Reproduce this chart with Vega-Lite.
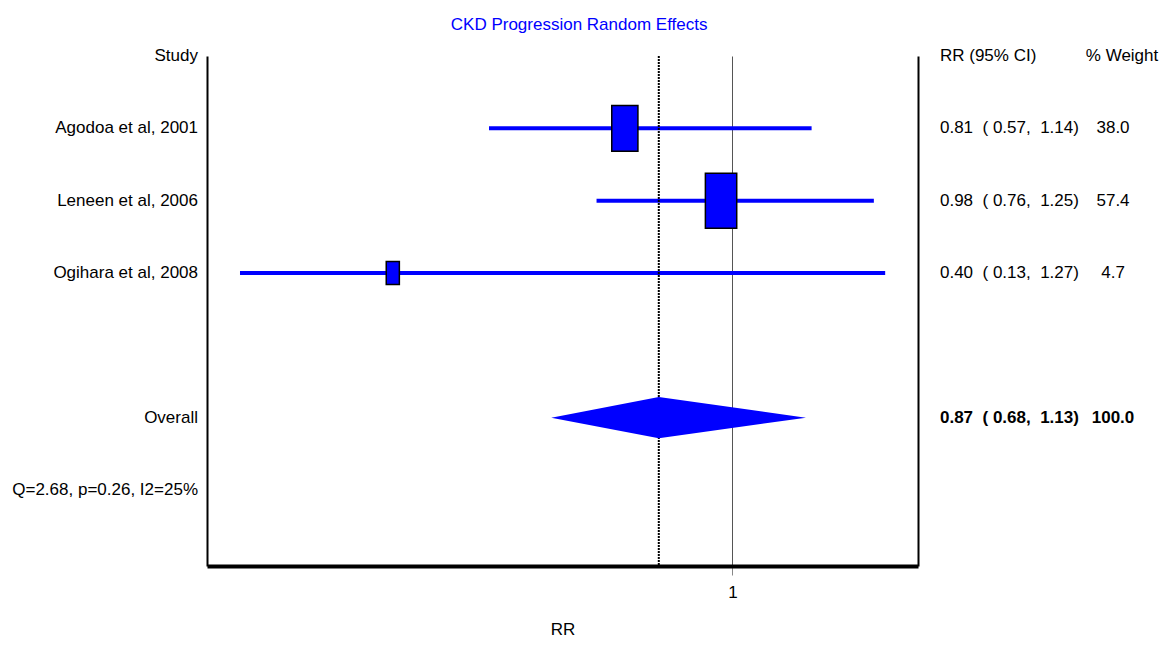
{
  "$schema": "https://vega.github.io/schema/vega-lite/v6.json",
  "padding": {"top": 16, "left": 0, "right": 0, "bottom": 0},
  "background": "white",
  "title": {"text": "CKD Progression Random Effects", "font": "Liberation Sans", "fontSize": 17, "fontWeight": "normal", "color": "#0000ff", "anchor": "middle", "offset": 13},
  "datasets": {
    "studies": [
      {"study": "Agodoa et al, 2001", "row": 1, "rr": 0.81, "lo": 0.57, "hi": 1.14, "weight": 38.0},
      {"study": "Leneen et al, 2006", "row": 2, "rr": 0.98, "lo": 0.76, "hi": 1.25, "weight": 57.4},
      {"study": "Ogihara et al, 2008", "row": 3, "rr": 0.40, "lo": 0.13, "hi": 1.27, "weight": 4.7}
    ],
    "overall": [{"row": 5, "rr": 0.87, "lo": 0.68, "hi": 1.13}],
    "diamond": [
      {"rr": 0.68, "top": 5, "bottom": 5},
      {"rr": 0.87, "top": 4.715, "bottom": 5.285},
      {"rr": 1.13, "top": 5, "bottom": 5}
    ],
    "left": [
      {"row": 0, "col": "label", "label": "Study"},
      {"row": 1, "col": "label", "label": "Agodoa et al, 2001"},
      {"row": 2, "col": "label", "label": "Leneen et al, 2006"},
      {"row": 3, "col": "label", "label": "Ogihara et al, 2008"},
      {"row": 5, "col": "label", "label": "Overall"},
      {"row": 6, "col": "label", "label": "Q=2.68, p=0.26, I2=25%"}
    ],
    "right": [
      {"row": 0, "col": "ci", "text": "RR (95% CI)", "bold": false, "header": true},
      {"row": 0, "col": "wt", "text": "% Weight", "bold": false, "header": true},
      {"row": 1, "col": "ci", "text": "0.81\u00a0 ( 0.57,\u00a0 1.14)", "bold": false, "header": false},
      {"row": 1, "col": "wt", "text": "38.0", "bold": false, "header": false},
      {"row": 2, "col": "ci", "text": "0.98\u00a0 ( 0.76,\u00a0 1.25)", "bold": false, "header": false},
      {"row": 2, "col": "wt", "text": "57.4", "bold": false, "header": false},
      {"row": 3, "col": "ci", "text": "0.40\u00a0 ( 0.13,\u00a0 1.27)", "bold": false, "header": false},
      {"row": 3, "col": "wt", "text": "4.7", "bold": false, "header": false},
      {"row": 5, "col": "ci", "text": "0.87\u00a0 ( 0.68,\u00a0 1.13)", "bold": true, "header": false},
      {"row": 5, "col": "wt", "text": "100.0", "bold": true, "header": false}
    ]
  },
  "config": {
    "view": {"stroke": null},
    "axisX": {
      "domainColor": "black", "domainWidth": 4, "tickColor": "#888888", "tickSize": 9, "tickWidth": 1,
      "labelFont": "Liberation Sans", "labelFontSize": 17, "labelColor": "black", "labelPadding": 9,
      "titleFont": "Liberation Sans", "titleFontSize": 17, "titleFontWeight": "normal", "titleColor": "black", "titlePadding": 21,
      "grid": true, "gridColor": "#555555", "gridWidth": 1, "zindex": 1
    },
    "axisY": {"domainColor": "black", "domainWidth": 2, "ticks": false, "labels": false, "grid": false}
  },
  "bounds": "flush",
  "spacing": 9,
  "hconcat": [
    {
      "width": 198,
      "height": 510,
      "data": {"name": "left"},
      "mark": {"type": "text", "align": "right", "baseline": "middle", "font": "Liberation Sans", "fontSize": 17, "color": "black"},
      "encoding": {
        "x": {"field": "col", "type": "nominal", "scale": {"type": "point", "padding": 0, "align": 1}, "axis": null},
        "y": {"field": "row", "type": "quantitative", "scale": {"domain": [0, 7.05], "reverse": true, "nice": false, "zero": false}, "axis": null},
        "text": {"field": "label"}
      }
    },
    {
      "width": 711,
      "height": 510,
      "resolve": {"axis": {"y": "independent"}},
      "layer": [
        {
          "data": {"name": "studies"},
          "mark": {"type": "rule", "color": "#0000ff", "strokeWidth": 4},
          "encoding": {
            "x": {"field": "lo", "type": "quantitative", "title": "RR", "scale": {"domain": [0.0717, 1.328], "nice": false, "zero": false}, "axis": {"values": [1], "format": "d", "title": "RR"}},
            "x2": {"field": "hi"},
            "y": {"field": "row", "type": "quantitative", "scale": {"domain": [0, 7.05], "reverse": true, "nice": false, "zero": false}, "axis": {"orient": "left", "title": null}}
          }
        },
        {
          "data": {"name": "overall"},
          "mark": {"type": "rule", "color": "black", "strokeWidth": 2, "strokeDash": [2, 1]},
          "encoding": {
            "x": {"field": "rr", "type": "quantitative", "title": "RR"}
          }
        },
        {
          "data": {"name": "studies"},
          "mark": {"type": "point", "shape": "M-0.57,-1H0.57V1H-0.57Z", "filled": true, "color": "#0000ff", "stroke": "black", "strokeWidth": 1.5, "opacity": 1},
          "encoding": {
            "x": {"field": "rr", "type": "quantitative", "title": "RR"},
            "y": {"field": "row", "type": "quantitative", "axis": {"orient": "right", "title": null}},
            "size": {"field": "weight", "type": "quantitative", "scale": {"domain": [4.7, 57.4], "range": [529, 3025], "zero": false}, "legend": null}
          }
        },
        {
          "data": {"name": "diamond"},
          "mark": {"type": "area", "color": "#0000ff", "opacity": 1},
          "encoding": {
            "x": {"field": "rr", "type": "quantitative", "title": "RR"},
            "y": {"field": "top", "type": "quantitative", "axis": null},
            "y2": {"field": "bottom"}
          }
        }
      ]
    },
    {
      "width": 199,
      "height": 510,
      "data": {"name": "right"},
      "encoding": {
        "x": {"field": "col", "type": "nominal", "scale": {"type": "point", "domain": ["ci", "wt"], "padding": 0.075}, "axis": null},
        "y": {"field": "row", "type": "quantitative", "scale": {"domain": [0, 7.05], "reverse": true, "nice": false, "zero": false}, "axis": null},
        "text": {"field": "text"}
      },
      "layer": [
        {"transform": [{"filter": "datum.col === 'ci' && !datum.bold"}], "mark": {"type": "text", "align": "left", "baseline": "middle", "font": "Liberation Sans", "fontSize": 17, "color": "black"}},
        {"transform": [{"filter": "datum.col === 'ci' && datum.bold"}], "mark": {"type": "text", "align": "left", "baseline": "middle", "font": "Liberation Sans", "fontSize": 17, "fontWeight": "bold", "color": "black"}},
        {"transform": [{"filter": "datum.col === 'wt' && !datum.bold && !datum.header"}], "mark": {"type": "text", "align": "center", "baseline": "middle", "font": "Liberation Sans", "fontSize": 17, "color": "black"}},
        {"transform": [{"filter": "datum.col === 'wt' && datum.header"}], "mark": {"type": "text", "align": "center", "baseline": "middle", "dx": 9, "font": "Liberation Sans", "fontSize": 17, "color": "black"}},
        {"transform": [{"filter": "datum.col === 'wt' && datum.bold"}], "mark": {"type": "text", "align": "center", "baseline": "middle", "font": "Liberation Sans", "fontSize": 17, "fontWeight": "bold", "color": "black"}}
      ]
    }
  ]
}
